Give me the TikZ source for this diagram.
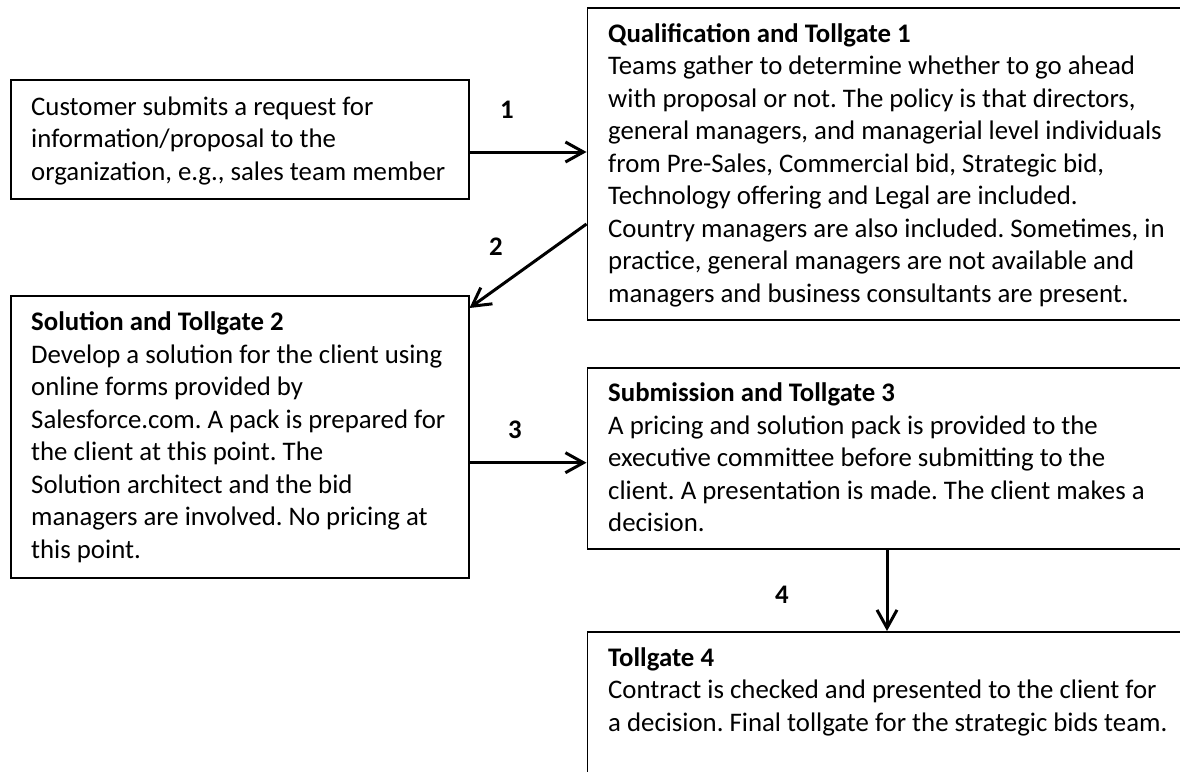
\documentclass[tikz,border=0pt]{standalone}
\usepackage{fontspec}
\setmainfont{Carlito}
\usetikzlibrary{arrows.meta,calc}
\frenchspacing
\begin{document}
\begin{tikzpicture}[x=1pt,y=-1pt,
  box/.style={draw, line width=1.5pt, anchor=north west, inner sep=0pt},
  txt/.style={anchor=base west, inner sep=0pt, align=left, font=\fontsize{26.8}{32.5}\selectfont},
  num/.style={font=\fontsize{26.8}{30}\selectfont\bfseries, inner sep=0pt},
  arr/.style={line width=3pt, -{Straight Barb[length=18pt,width=20pt,line width=3pt]}}]
\useasboundingbox (0,0) rectangle (1180,771);
\clip (0,0) rectangle (1180,771);
% boxes
\node[box, minimum width=458pt, minimum height=119pt] (A) at (10,79) {};
\node[box, minimum width=610pt, minimum height=312pt] (Q) at (586.5,7) {};
\node[box, minimum width=458pt, minimum height=282pt] (S) at (10,295) {};
\node[box, minimum width=610pt, minimum height=181pt] (T3) at (586.5,367) {};
\node[box, minimum width=610pt, minimum height=200pt] (T4) at (586.5,631) {};
% texts (base anchor = baseline of last line)
\node[txt] (At) at (31,180) {Customer submits a request for\\information/proposal to the\\organization, e.g., sales team member};
\node[txt] (Qt) at (608,302) {\textbf{Qualification and Tollgate 1}\\Teams gather to determine whether to go ahead\\with proposal or not. The policy is that directors,\\general managers, and managerial level individuals\\from Pre-Sales, Commercial bid, Strategic bid,\\Technology offering and Legal are included.\\Country managers are also included. Sometimes, in\\practice, general managers are not available and\\managers and business consultants are present.};
\node[txt] (St) at (31,558) {\textbf{Solution and Tollgate 2}\\Develop a solution for the client using\\online forms provided by\\Salesforce.com. A pack is prepared for\\the client at this point. The\\Solution architect and the bid\\managers are involved. No pricing at\\this point.};
\node[txt] (T3t) at (608,531.7) {\textbf{Submission and Tollgate 3}\\A pricing and solution pack is provided to the\\executive committee before submitting to the\\client. A presentation is made. The client makes a\\decision.};
\node[txt] (T4t) at (608,731) {\textbf{Tollgate 4}\\Contract is checked and presented to the client for\\a decision. Final tollgate for the strategic bids team.};
% connector coordinates
\coordinate (a1s) at ($(A.north east)+(0,73)$);
\coordinate (a2s) at ($(Q.north west)+(0,217)$);
\coordinate (a2e) at ($(S.north east)+(0,13)$);
\coordinate (a3s) at ($(S.north east)+(0,167.7)$);
\coordinate (a4s) at ($(T3.south west)+(300.5,0)$);
% arrows
\draw[arr] (a1s) -- (a1s -| Q.west);
\draw[arr] (a2s) -- (a2e);
\draw[arr] (a3s) -- (a3s -| T3.west);
\draw[arr] (a4s) -- (a4s |- T4.north);
% labels
\node[num] (n1) at (507,110) {1};
\node[num] (n2) at (496,247) {2};
\node[num] (n3) at (515,430) {3};
\node[num] (n4) at (782,595) {4};
\end{tikzpicture}
\end{document}
